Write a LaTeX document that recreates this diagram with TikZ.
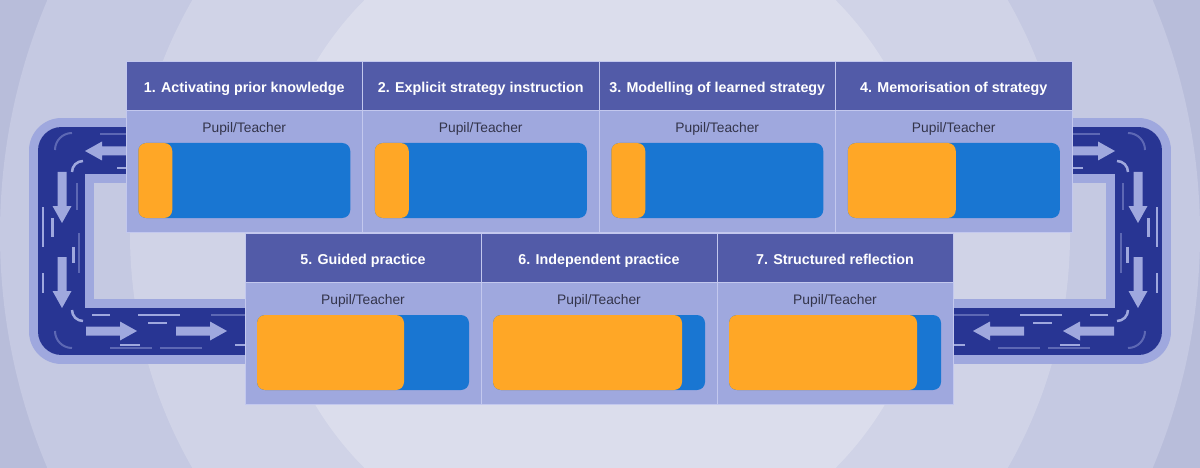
\documentclass[tikz,border=0pt]{standalone}
\usepackage{fontspec}
\setmainfont{Liberation Sans}
\usetikzlibrary{positioning,calc}

\definecolor{ringA}{HTML}{B8BDDA}
\definecolor{ringB}{HTML}{C5C9E2}
\definecolor{ringC}{HTML}{D0D3E7}
\definecolor{ringD}{HTML}{DBDDEC}
\definecolor{headblue}{HTML}{525BA8}
\definecolor{paleblue}{HTML}{9FA8DE}
\definecolor{edgeblue}{HTML}{C3C8EE}
\definecolor{roadblue}{HTML}{283593}
\definecolor{pupilorange}{HTML}{FFA726}
\definecolor{teacherblue}{HTML}{1976D2}
\definecolor{inkgray}{HTML}{33344A}

\begin{document}
\begin{tikzpicture}[
    x=1pt, y=-1pt,
    head/.style={fill=headblue, draw=edgeblue, line width=0.8pt, minimum width=236.5pt, minimum height=49pt, inner sep=0pt, outer sep=0pt, text=white, text height=14.2pt, text depth=0pt, font=\fontsize{14.3pt}{17pt}\selectfont\bfseries},
    body/.style={fill=paleblue, draw=edgeblue, line width=0.8pt, minimum width=236.5pt, minimum height=122pt, inner sep=0pt, outer sep=0pt},
    who/.style={inner sep=0pt, text=inkgray, text height=10pt, text depth=3pt, font=\fontsize{13.8pt}{16pt}\selectfont},
    bar/.style={fill=teacherblue, rounded corners=8pt, minimum width=212pt, minimum height=75pt, inner sep=0pt, outer sep=0pt,
        path picture={\fill[pupilorange] (path picture bounding box.south west) rectangle ([xshift=#1pt]path picture bounding box.north west);}},
    lane/.style={draw=paleblue, line width=2.5pt},
    faint/.style={lane, line width=2pt, draw opacity=0.45},
    roadarrow/.style={fill=paleblue, insert path={(0,-4.5) -- (34,-4.5) -- (34,-9.5) -- (51,0) -- (34,9.5) -- (34,4.5) -- (0,4.5) -- cycle}},
    track/.pic={
        \draw[paleblue, line width=65pt, line join=round] (150,150.5) -- (61.5,150.5) -- (61.5,331.5) -- (270,331.5);
        \draw[roadblue, line width=47pt, line join=round] (150,150.5) -- (61.5,150.5) -- (61.5,331.5) -- (270,331.5);
        % top lane
        \draw[faint] (100,134) -- (130,134);
        \draw[lane] (117,168) -- (130,168);
        \draw[faint] (55,150) arc[start angle=180, end angle=270, radius=17];
        \draw[lane] (72,172) arc[start angle=180, end angle=270, radius=11];
        % side lane
        \draw[lane, line width=2pt] (43,207) -- (43,247);
        \draw[lane, line width=3pt] (52,218) -- (52,237);
        \draw[lane, line width=2pt] (43,273) -- (43,293);
        \draw[lane, line width=3pt] (73,247) -- (73,263);
        \draw[faint] (77,183) -- (77,210);
        \draw[faint] (79,233) -- (79,273);
        % bottom lane
        \draw[faint] (55,331) arc[start angle=180, end angle=90, radius=17];
        \draw[lane] (72,310) arc[start angle=180, end angle=90, radius=11];
        \draw[lane] (92,315) -- (110,315);
        \draw[lane] (138,315) -- (180,315);
        \draw[faint] (211,315) -- (250,315);
        \draw[lane] (148,323) -- (167,323);
        \draw[lane] (120,345) -- (140,345);
        \draw[faint] (110,348) -- (152,348);
        \draw[faint] (160,348) -- (202,348);
        \draw[lane] (235,345) -- (250,345);
        \path[shift={(136,151)}, rotate=180, roadarrow];
        \path[shift={(62,172)}, rotate=-90, roadarrow];
        \path[shift={(62,257)}, rotate=-90, roadarrow];
        \path[shift={(86,331)}, roadarrow];
        \path[shift={(176,331)}, roadarrow];
    }
]
    \useasboundingbox (0,0) rectangle (1200,468);
    \fill[ringA] (0,0) rectangle (1200,468);
    \begin{scope}
        \clip (0,0) rectangle (1200,468);
        \fill[ringB] (600,234) circle[radius=600pt];
        \fill[ringC] (600,234) circle[radius=470pt];
        \fill[ringD] (600,234) circle[radius=332pt];
    \end{scope}

    \pic at (0,0) {track};
    \pic[xscale=-1] at (1200,0) {track};

    \node[head, anchor=north west] (h1) at (126,61) {1. Activating prior knowledge};
    \node[head, right=0pt of h1] (h2) {2. Explicit strategy instruction};
    \node[head, right=0pt of h2] (h3) {3. Modelling of learned strategy};
    \node[head, right=0pt of h3] (h4) {4. Memorisation of strategy};
    \node[body, below=0pt of h1] (b1) {};
    \node[body, below=0pt of h2] (b2) {};
    \node[body, below=0pt of h3] (b3) {};
    \node[body, below=0pt of h4] (b4) {};

    \node[head, anchor=north west, minimum width=236pt] (h5) at (245,233) {5. Guided practice};
    \node[head, right=0pt of h5, minimum width=236pt] (h6) {6. Independent practice};
    \node[head, right=0pt of h6, minimum width=236pt] (h7) {7. Structured reflection};
    \node[body, below=0pt of h5, minimum width=236pt] (b5) {};
    \node[body, below=0pt of h6, minimum width=236pt] (b6) {};
    \node[body, below=0pt of h7, minimum width=236pt] (b7) {};

    \node[who, below=12pt of b1.north] (w1) {Pupil/Teacher};
    \node[who, below=12pt of b2.north] (w2) {Pupil/Teacher};
    \node[who, below=12pt of b3.north] (w3) {Pupil/Teacher};
    \node[who, below=12pt of b4.north] (w4) {Pupil/Teacher};
    \node[who, below=12pt of b5.north] (w5) {Pupil/Teacher};
    \node[who, below=12pt of b6.north] (w6) {Pupil/Teacher};
    \node[who, below=12pt of b7.north] (w7) {Pupil/Teacher};

    \node[bar=34, below=33pt of b1.north] (r1) {};
    \node[bar=34, below=33pt of b2.north] (r2) {};
    \node[bar=34, below=33pt of b3.north] (r3) {};
    \node[bar=108, below=33pt of b4.north] (r4) {};
    \node[bar=147, below=33pt of b5.north] (r5) {};
    \node[bar=189, below=33pt of b6.north] (r6) {};
    \node[bar=188, below=33pt of b7.north] (r7) {};
\end{tikzpicture}
\end{document}
